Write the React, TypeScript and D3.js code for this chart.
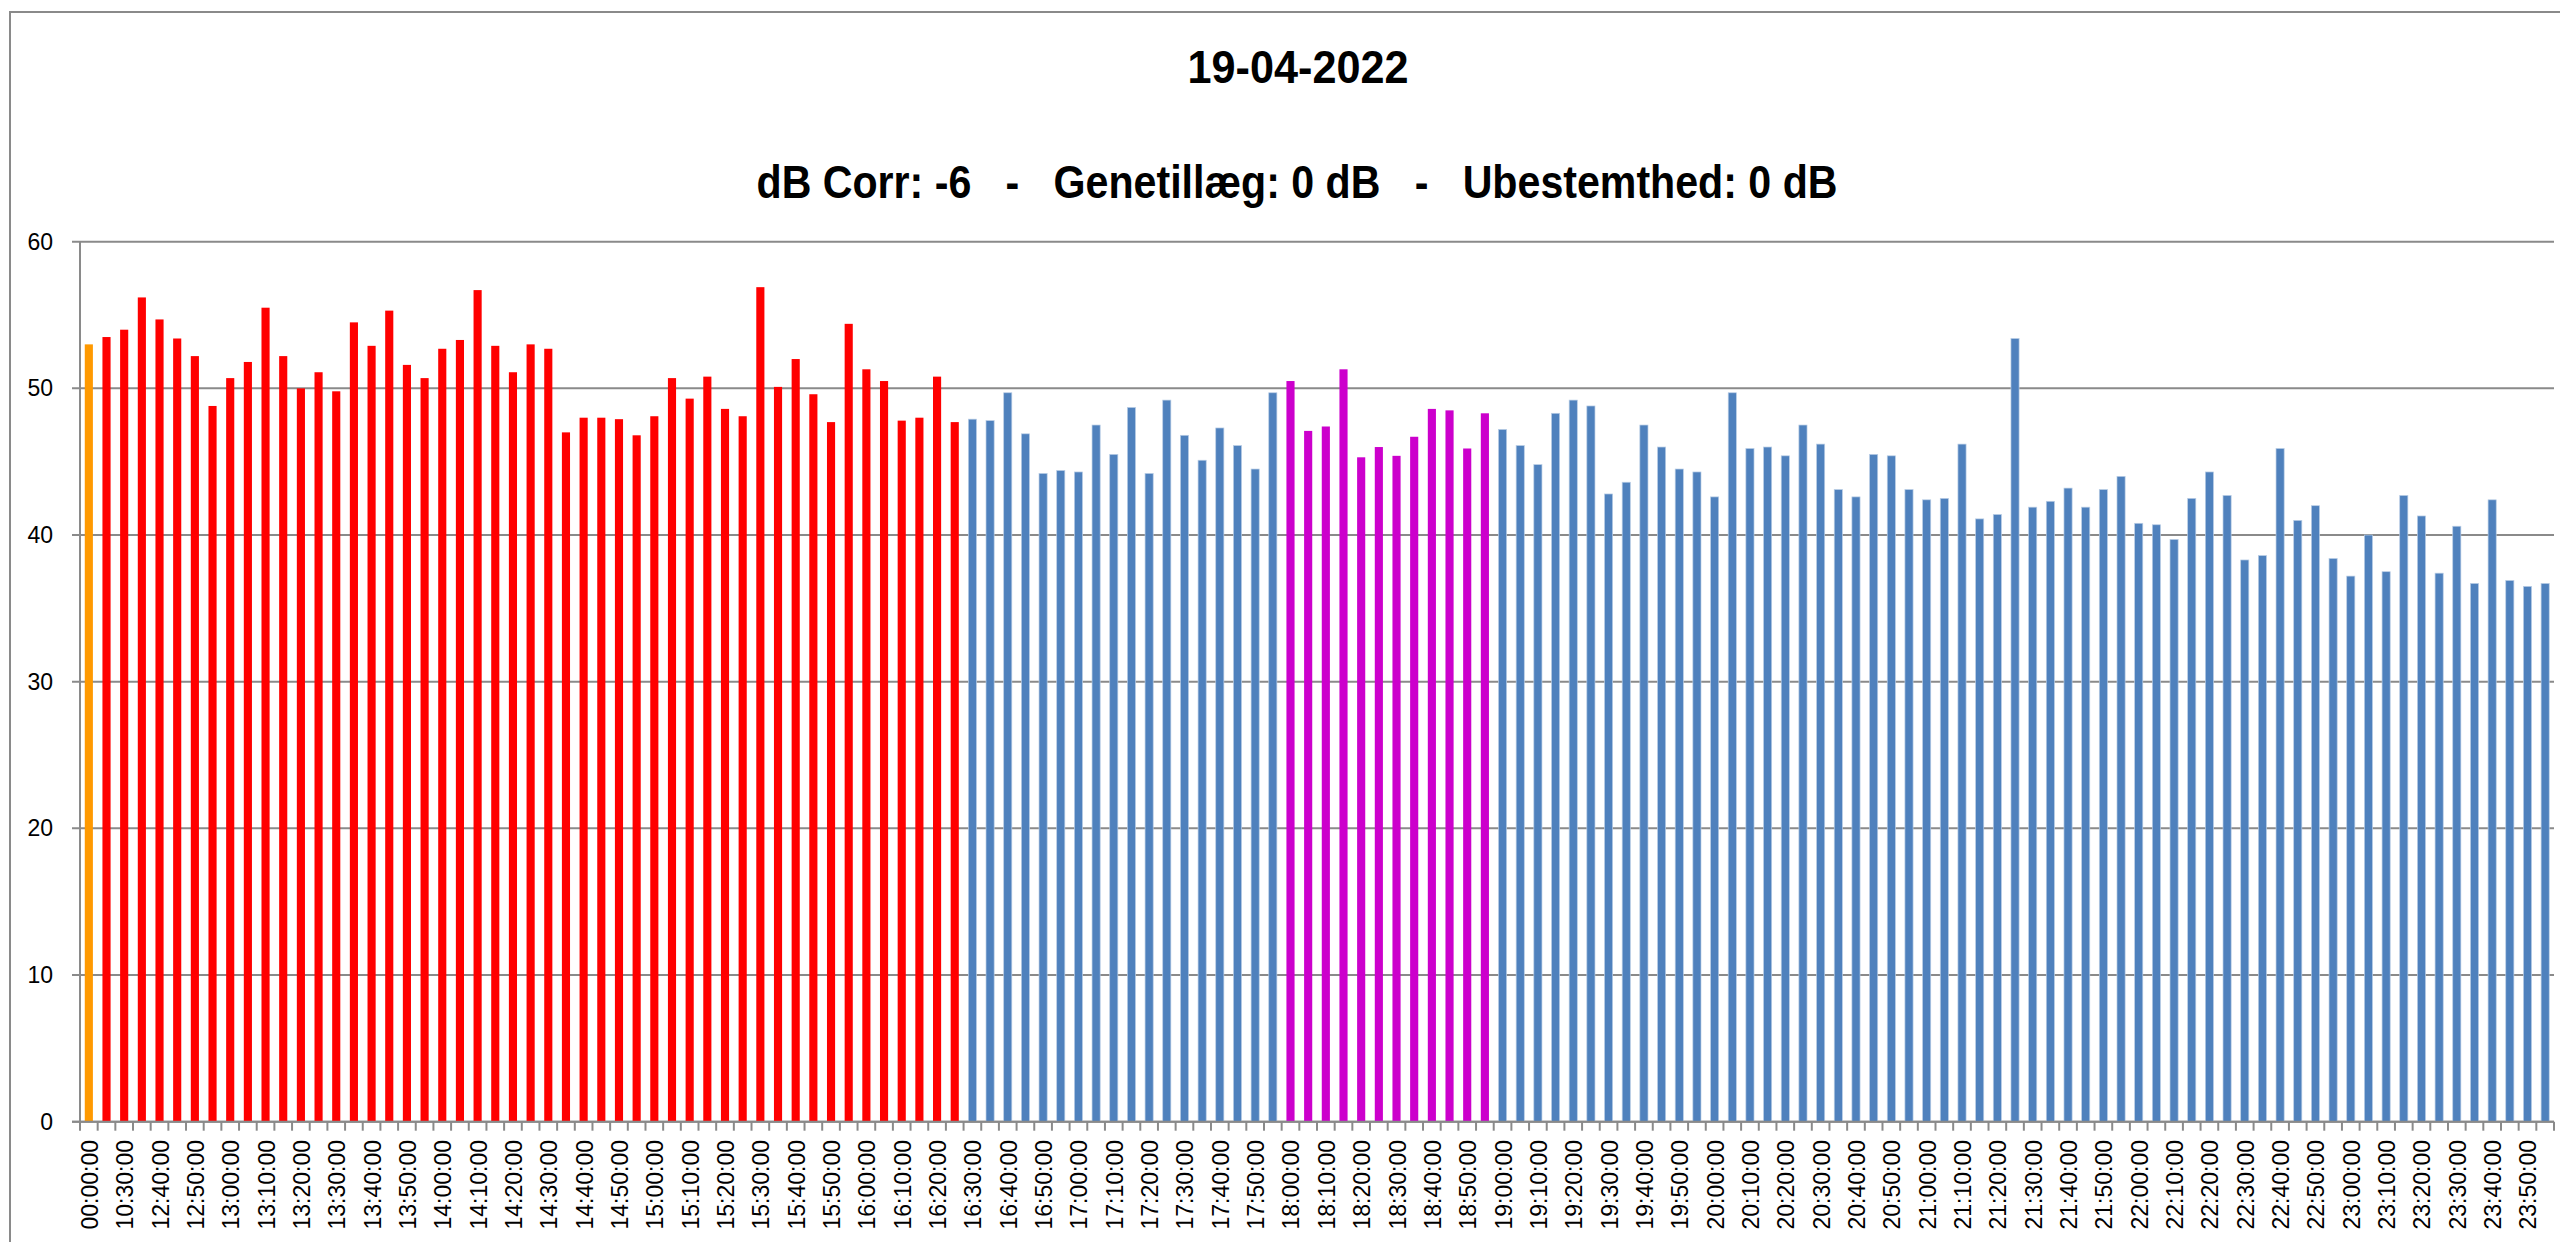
import { useEffect, useRef } from 'react';
import * as d3 from 'd3';

// first four samples are irregular, then every 5 minutes from 12:40 to 23:55
const earlyTimes = ['00:00:00', '10:25:00', '10:30:00', '12:35:00'];
const regularStart = '12:40:00';
const regularCount = 136;

// dB levels, one per sample
const levels = [
  53.0, 53.5, 54.0, 56.2, 54.7, 53.4, 52.2, 48.8, 50.7, 51.8, 55.5, 52.2, 50.0, 51.1, 49.8, 54.5, 52.9, 55.3, 51.6, 50.7,
  52.7, 53.3, 56.7, 52.9, 51.1, 53.0, 52.7, 47.0, 48.0, 48.0, 47.9, 46.8, 48.1, 50.7, 49.3, 50.8, 48.6, 48.1, 56.9, 50.1,
  52.0, 49.6, 47.7, 54.4, 51.3, 50.5, 47.8, 48.0, 50.8, 47.7, 47.9, 47.8, 49.7, 46.9, 44.2, 44.4, 44.3, 47.5, 45.5, 48.7,
  44.2, 49.2, 46.8, 45.1, 47.3, 46.1, 44.5, 49.7, 50.5, 47.1, 47.4, 51.3, 45.3, 46.0, 45.4, 46.7, 48.6, 48.5, 45.9, 48.3,
  47.2, 46.1, 44.8, 48.3, 49.2, 48.8, 42.8, 43.6, 47.5, 46.0, 44.5, 44.3, 42.6, 49.7, 45.9, 46.0, 45.4, 47.5, 46.2, 43.1,
  42.6, 45.5, 45.4, 43.1, 42.4, 42.5, 46.2, 41.1, 41.4, 53.4, 41.9, 42.3, 43.2, 41.9, 43.1, 44.0, 40.8, 40.7, 39.7, 42.5,
  44.3, 42.7, 38.3, 38.6, 45.9, 41.0, 42.0, 38.4, 37.2, 40.0, 37.5, 42.7, 41.3, 37.4, 40.6, 36.7, 42.4, 36.9, 36.5, 36.7
];

const yTicks = [0, 10, 20, 30, 40, 50, 60];

const title = '19-04-2022';
const subtitle = 'dB Corr: -6   -   Genetillæg: 0 dB   -   Ubestemthed: 0 dB';

function buildTimes() {
  const parse = d3.timeParse('%H:%M:%S');
  const fmt = d3.timeFormat('%H:%M:%S');
  const start = parse(regularStart)!;
  const out = [...earlyTimes];
  for (let i = 0; i < regularCount; i++) out.push(fmt(d3.timeMinute.offset(start, i * 5)));
  return out;
}

function barColor(t: string, i: number) {
  if (i === 0) return '#FF9900';
  if (t < '16:30:00') return '#FF0000';
  if (t >= '18:00:00' && t < '19:00:00') return '#CC00CC';
  return '#4F81BD';
}

export default function App() {
  const svgRef = useRef<SVGSVGElement>(null);

  useEffect(() => {
    if (!svgRef.current) return;
    const svg = d3.select(svgRef.current);
    svg.selectAll('*').remove();

    const width = 2560;
    const height = 1242;
    const left = 80;
    const right = 2554;
    const top = 241.7;
    const bottom = 1121.7;
    const font = '"Liberation Sans", Arial, sans-serif';
    const grey = '#8a8a8a';

    const times = buildTimes();
    const data = times.map((t, i) => ({ t, v: levels[i], i }));

    svg.append('rect').attr('width', width).attr('height', height).attr('fill', '#fff');
    svg.append('rect')
      .attr('x', 10).attr('y', 12)
      .attr('width', 2700).attr('height', 1400)
      .attr('fill', 'none').attr('stroke', grey).attr('stroke-width', 2);

    const x = d3.scaleBand().domain(times).range([left, right]).padding(0);
    const y = d3.scaleLinear().domain([0, 60]).range([bottom, top]);

    // gridlines + y ticks
    svg.append('g').selectAll('line')
      .data(yTicks)
      .enter().append('line')
      .attr('x1', left - 8).attr('x2', right)
      .attr('y1', d => y(d)).attr('y2', d => y(d))
      .attr('stroke', grey).attr('stroke-width', 2);

    svg.append('g').selectAll('text')
      .data(yTicks)
      .enter().append('text')
      .attr('x', 53).attr('y', d => y(d))
      .attr('text-anchor', 'end').attr('dominant-baseline', 'central')
      .attr('font-family', font).attr('font-size', 23).attr('fill', '#000')
      .text(d => d);

    // bars
    const bw = x.bandwidth();
    const barW = bw * 0.46;
    svg.append('g').selectAll('rect')
      .data(data)
      .enter().append('rect')
      .attr('x', d => (x(d.t) || 0) + (bw - barW) / 2)
      .attr('y', d => y(d.v))
      .attr('width', barW)
      .attr('height', d => bottom - y(d.v))
      .attr('fill', d => barColor(d.t, d.i))
      .attr('stroke', d => (barColor(d.t, d.i) === '#4F81BD' ? '#b9cde5' : 'none'))
      .attr('stroke-width', 0.7);

    // axes lines
    svg.append('line')
      .attr('x1', left).attr('x2', left).attr('y1', top).attr('y2', bottom)
      .attr('stroke', grey).attr('stroke-width', 2);
    svg.append('line')
      .attr('x1', left - 8).attr('x2', right).attr('y1', bottom).attr('y2', bottom)
      .attr('stroke', grey).attr('stroke-width', 2);

    // x tick marks at band edges
    const edges = d3.range(times.length + 1).map(k => left + k * bw);
    svg.append('g').selectAll('line')
      .data(edges)
      .enter().append('line')
      .attr('x1', d => d).attr('x2', d => d)
      .attr('y1', bottom).attr('y2', bottom + 9)
      .attr('stroke', grey).attr('stroke-width', 2);

    // x labels every other category
    svg.append('g').selectAll('text')
      .data(data.filter(d => d.i % 2 === 0))
      .enter().append('text')
      .attr('transform', d => `translate(${(x(d.t) || 0) + bw / 2 + 1},1140) rotate(-90)`)
      .attr('text-anchor', 'end').attr('dominant-baseline', 'central')
      .attr('font-family', font).attr('font-size', 23).attr('fill', '#000')
      .text(d => d.t);

    // titles
    svg.append('text')
      .attr('x', 1298).attr('y', 83)
      .attr('text-anchor', 'middle')
      .attr('font-family', font).attr('font-weight', 'bold').attr('font-size', 46)
      .attr('textLength', 221).attr('lengthAdjust', 'spacingAndGlyphs')
      .text(title);
    svg.append('text')
      .attr('x', 1297).attr('y', 198)
      .attr('text-anchor', 'middle')
      .attr('font-family', font).attr('font-weight', 'bold').attr('font-size', 46)
      .attr('textLength', 1081).attr('lengthAdjust', 'spacingAndGlyphs')
      .style('white-space', 'pre')
      .text(subtitle);
  }, []);

  return (
    <svg
      ref={svgRef}
      width={2560}
      height={1242}
      style={{ position: 'absolute', left: 0, top: 0, display: 'block' }}
    />
  );
}
